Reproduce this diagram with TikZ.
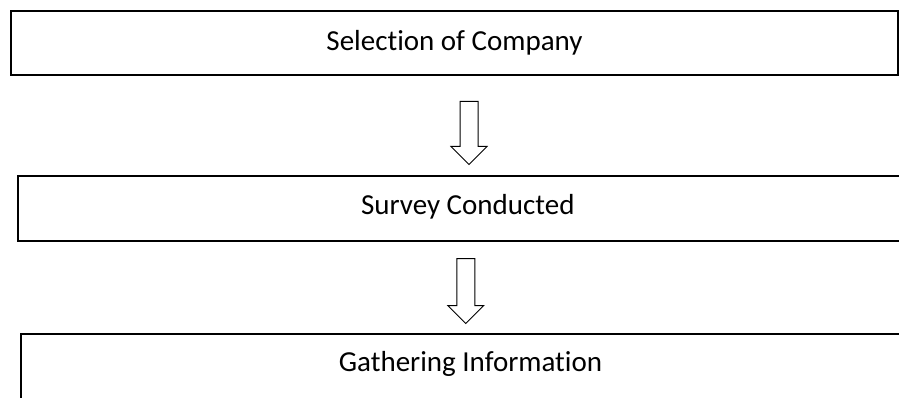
\documentclass[tikz,border=0pt]{standalone}
\usepackage{fontspec}
\setmainfont{Carlito}[RawFeature={-liga;-clig;-calt;-dlig}]
\usetikzlibrary{shapes.arrows,positioning}
\tikzstyle{stagebox}=[draw, line width=2pt, rectangle, inner sep=0pt, anchor=north, font=\fontsize{29}{32}\selectfont]
\tikzstyle{downarrow}=[draw, line width=1pt, single arrow, shape border rotate=270, single arrow head extend=9pt, inner sep=8.5pt, anchor=tail]

\begin{document}
\begin{tikzpicture}[x=1pt,y=-1pt]
	\clip (0,0) rectangle (899,398);
	% the three stages, text sits a little below the top edge
	\node[stagebox, minimum width=887pt, text height=39.3pt, text depth=24.7pt] (sel) at (454.5,10) {Selection of Company};
	\node[stagebox, minimum width=900pt, text height=38.3pt, text depth=26.7pt] (survey) at (467.75,175) {Survey Conducted};
	\node[stagebox, minimum width=899pt, text height=37pt, text depth=70pt] (gather) at (470.5,333) {Gathering Information};
	% hollow arrows between them
	\node[downarrow, minimum height=63pt] (arrA) at ([xshift=14.5pt,yshift=-25pt]sel.south) {};
	\node[downarrow, minimum height=65pt] (arrB) at ([xshift=-2pt,yshift=-16pt]survey.south) {};
\end{tikzpicture}
\end{document}
